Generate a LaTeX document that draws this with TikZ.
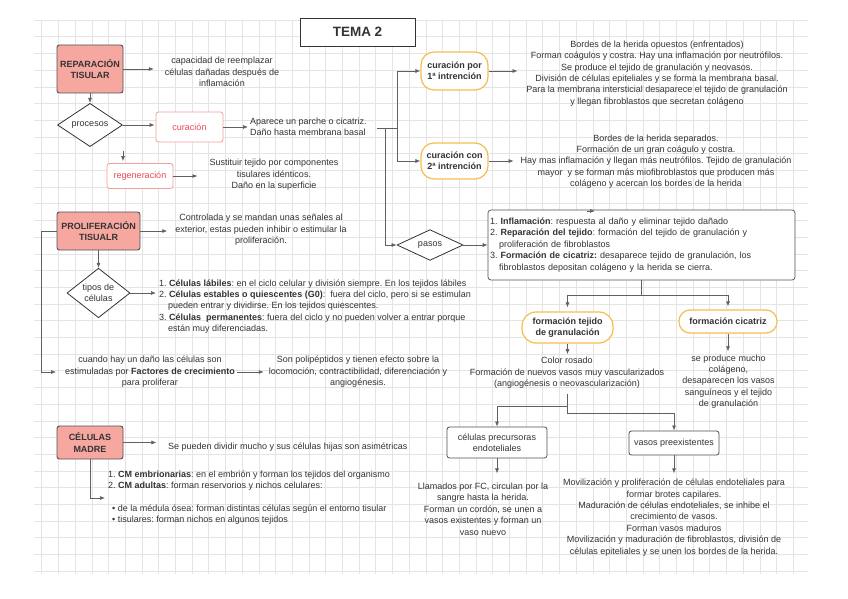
\documentclass[tikz,border=0pt]{standalone}
\usepackage{fontspec}
\setmainfont{Liberation Sans}
\usetikzlibrary{arrows.meta,shapes.geometric}
\definecolor{salmon}{HTML}{F6A8A0}
\definecolor{boxline}{HTML}{505050}
\definecolor{txt}{HTML}{333333}
\definecolor{redtxt}{HTML}{E84A4F}
\definecolor{redline}{HTML}{F29C9C}
\definecolor{yel}{HTML}{F6BD4C}
\definecolor{gridc}{HTML}{E4E4E4}
\definecolor{conn}{HTML}{606060}
\newcommand\fsz{\fontsize{9}{11.4}\selectfont\frenchspacing}
\tikzset{
 every node/.style={font=\fsz, text=txt, inner sep=0pt},
 mainbox/.style={draw=boxline, fill=salmon, rounded corners=2.5pt, line width=0.9pt, font=\fsz\bfseries, align=center},
 redbox/.style={draw=redline, fill=white, rounded corners=2.5pt, line width=0.8pt, text=redtxt, align=center},
 pill/.style={draw=yel, fill=white, rounded corners=13pt, line width=1.2pt, font=\fsz\bfseries, align=center},
 plainbox/.style={draw=boxline, fill=white, rounded corners=2.5pt, line width=0.8pt, align=center},
 dia/.style={diamond, draw=txt, fill=white, line width=0.8pt, align=center},
 conn/.style={draw=conn, line width=0.7pt, -{Latex[length=5pt,width=4pt]}},
 plainline/.style={draw=conn, line width=0.7pt},
 ctext/.style={align=center},
 ltext/.style={align=left},
}
\begin{document}
\begin{tikzpicture}[x=1pt,y=-1pt]
\useasboundingbox (0,0) rectangle (848,599);
\fill[white] (0,0) rectangle (848,599);
\foreach \i in {0,...,45} \draw[gridc, line width=0.5pt] ({41.7+16.7*\i},20) -- ({41.7+16.7*\i},574);
\foreach \j in {0,...,33} \draw[gridc, line width=0.5pt] (34,{20+16.7*\j}) -- (808,{20+16.7*\j});

% title
\node[draw=txt, fill=white, line width=0.8pt, minimum width=115pt, minimum height=28pt, font=\fontsize{13.5}{16}\selectfont\bfseries] (title) at (357.5,32) {TEMA 2};

% reparacion tisular
\node[mainbox, minimum width=66pt, minimum height=48pt] (rep) at (90,69) {REPARACIÓN\\TISULAR};
\node[ctext] (rept) at (222,72) {capacidad de reemplazar\\células dañadas después de\\inflamación};
\draw[conn, shorten >=11pt] (rep.east) -- (rep.east -| rept.west);

\node[dia, minimum width=65pt, minimum height=30pt] (proc) at (90,125) {procesos};
\draw[conn] (rep.south) -- (proc.north);

\node[redbox, minimum width=67pt, minimum height=30pt] (cur) at (189.5,127) {curación};
\draw[conn, shorten >=1pt] (proc.east) -- (proc.east -| cur.west);
\node[ltext, anchor=west] (curt) at (250,127) {Aparece un parche o cicatriz.\\Daño hasta membrana basal};
\draw[conn, shorten >=2pt] (cur.east) -- (cur.east -| curt.west);

\node[redbox, minimum width=66pt, minimum height=25pt] (regen) at (140,176) {regeneración};
\coordinate (rgs) at (123,151);
\draw[conn, shorten >=2pt] (rgs) -- (rgs |- regen.north);
\node[ctext] (regt) at (274,175) {Sustituir tejido por componentes\\tisulares idénticos.\\Daño en la superficie};
\draw[conn, shorten >=12pt] (regen.east) -- (regen.east -| regt.west);

% curacion por 1a / 2a
\node[pill, minimum width=67pt, minimum height=38pt] (p1) at (454.5,71) {curación por\\1ª intrención};
\node[pill, minimum width=67pt, minimum height=36pt] (p2) at (454.5,161) {curación con\\2ª intrención};
\node[ctext] (p1t) at (657,73.5) {Bordes de la herida opuestos (enfrentados)\\Forman coágulos y costra. Hay una inflamación por neutrófilos.\\Se produce el tejido de granulación y neovasos.\\División de células epiteliales y se forma la membrana basal.\\Para la membrana intersticial desaparece el tejido de granulación\\y llegan fibroblastos que secretan colágeno};
\node[ctext] (p2t) at (656,161.5) {Bordes de la herida separados.\\Formación de un gran coágulo y costra.\\Hay mas inflamación y llegan más neutrófilos. Tejido de granulación\\mayor \ y se forman más miofibroblastos que producen más\\colágeno y acercan los bordes de la herida};
\draw[conn] (p1.east) -- ++(29,0);
\draw[conn] (p2.east) -- ++(25,0);

\coordinate (br) at (377,128);
\coordinate (bv) at (397,128);
\coordinate (bd) at (385,128);
\draw[plainline] (br) -- (bv);
\draw[plainline] (bv |- p1.west) -- (bv |- p2.west);
\draw[conn] (bv |- p1.west) -- (p1.west);
\draw[conn] (bv |- p2.west) -- (p2.west);

% pasos
\node[dia, minimum width=66pt, minimum height=30pt] (pasos) at (430,245) {pasos};
\draw[conn] (bd) -- (bd |- pasos.west) -- (pasos.west);
\node[draw=boxline, fill=white, rounded corners=3pt, line width=0.7pt, text width=303pt, inner xsep=2pt, minimum height=70pt, align=left] (pasb) at (641.5,245) {1. \textbf{Inflamación}: respuesta al daño y eliminar tejido dañado\\2. \textbf{Reparación del tejido}: formación del tejido de granulación y\\\hspace*{9pt}proliferación de fibroblastos\\3. \textbf{Formación de cicatriz:} desaparece tejido de granulación, los\\\hspace*{9pt}fibroblastos depositan colágeno y la herida se cierra.};
\draw[conn] (pasos.east) -- (pasb.west);
\coordinate (tk) at (587,211);
\draw[conn] (tk) -- ++(8,0);

% proliferacion tisular
\node[mainbox, minimum width=83pt, minimum height=38pt] (prol) at (98.5,231) {PROLIFERACIÓN\\TISUALR};
\node[ctext] (prolt) at (261,230) {Controlada y se mandan unas señales al\\exterior, estas pueden inhibir o estimular la\\proliferación.};
\draw[conn, shorten >=8pt] (prol.east) -- (prol.east -| prolt.west);

\node[dia, minimum width=63pt, minimum height=46pt] (tipos) at (98.5,293) {tipos de\\células};
\draw[conn] (prol.south) -- (tipos.north);
\node[ltext, anchor=west] (tipt) at (159,306.5) {1. \textbf{Células lábiles}: en el ciclo celular y división siempre. En los tejidos lábiles\\2. \textbf{Células estables o quiescentes (G0)}: \ fuera del ciclo, pero si se estimulan\\\hspace*{9pt}pueden entrar y dividirse. En los tejidos quiescentes.\\3. \textbf{Células \ permanentes}: fuera del ciclo y no pueden volver a entrar porque\\\hspace*{9pt}están muy diferenciadas.};
\draw[conn, shorten >=3pt] (tipos.east) -- (tipos.east -| tipt.west);

\node[ctext] (fact) at (150,372) {cuando hay un daño las células son\\estimuladas por \textbf{Factores de crecimiento}\\para proliferar};
\coordinate (fl) at (41,231);
\draw[conn, shorten >=9pt] (prol.west) -- (fl) -- (fl |- fact.west) -- (fact.west);
\node[ctext] (polit) at (358,372) {Son polipéptidos y tienen efecto sobre la\\locomoción, contractibilidad, diferenciación y\\angiogénesis.};
\draw[conn, shorten <=2pt, shorten >=5pt] (fact.east) -- (fact.east -| polit.west);

% formacion tejido / cicatriz
\node[pill, minimum width=91pt, minimum height=31pt, rounded corners=14pt] (gran) at (567.5,327.5) {formación tejido\\de granulación};
\node[pill, minimum width=98pt, minimum height=23pt, rounded corners=11pt] (cic) at (728,321.5) {formación cicatriz};
\coordinate (jn) at (641.5,295);
\draw[plainline] (pasb.south) -- (jn);
\draw[conn, shorten >=4pt] (jn) -- (jn -| gran.north) -- (gran.north);
\draw[conn, shorten >=3pt] (jn) -- (jn -| cic.north) -- (cic.north);

\node[ctext] (grant) at (567,373) {Color rosado\\Formación de nuevos vasos muy vascularizados\\(angiogénesis o neovascularización)};
\draw[conn, shorten >=3pt] (gran.south) -- (grant.north -| gran.south);
\node[ctext] (cict) at (728.5,381.5) {se produce mucho\\colágeno,\\desaparecen los vasos\\sanguíneos y el tejido\\de granulación};
\draw[conn, shorten >=3pt] (cic.south) -- (cict.north -| cic.south);

% vasos
\node[plainbox, minimum width=100pt, minimum height=31pt] (pre) at (497,442.5) {células precursoras\\endoteliales};
\node[plainbox, minimum width=90pt, minimum height=24pt] (vas) at (674,443) {vasos preexistentes};
\coordinate (gb) at (567,394);
\coordinate (gl) at (567,406);
\coordinate (gr) at (567,413);
\draw[plainline] (gb) -- (gr);
\draw[conn] (gl) -- (gl -| pre.north) -- (pre.north);
\draw[conn] (gr) -- (gr -| vas.north) -- (vas.north);

\node[ctext] (pret) at (483,509) {Llamados por FC, circulan por la\\sangre hasta la herida.\\Forman un cordón, se unen a\\vasos existentes y forman un\\vaso nuevo};
\draw[conn] (pre.south) -- ++(0,15);
\node[ctext] (vast) at (674,517.5) {Movilización y proliferación de células endoteliales para\\formar brotes capilares.\\Maduración de células endoteliales, se inhibe el\\crecimiento de vasos.\\Forman vasos maduros\\Movilización y maduración de fibroblastos, división de\\células epiteliales y se unen los bordes de la herida.};
\draw[conn] (vas.south) -- ++(0,18);

% celulas madre
\node[mainbox, minimum width=66pt, minimum height=33pt] (madre) at (90,442.5) {CÉLULAS\\MADRE};
\node[anchor=west] (madt) at (168,447) {Se pueden dividir mucho y sus células hijas son asimétricas};
\draw[conn] (madre.east) -- ++(33,0);
\node[ltext, anchor=west] (madl) at (108,497.5) {1. \textbf{CM embrionarias}: en el embrión y forman los tejidos del organismo\\2. \textbf{CM adultas}: forman reservorios y nichos celulares:\\\mbox{}\\\hspace*{4pt}• de la médula ósea: forman distintas células según el entorno tisular\\\hspace*{4pt}• tisulares: forman nichos en algunos tejidos};
\coordinate (ml) at (90,498);
\draw[conn, shorten >=3pt] (madre.south) -- (ml) -- (ml -| madl.west);
\end{tikzpicture}
\end{document}
